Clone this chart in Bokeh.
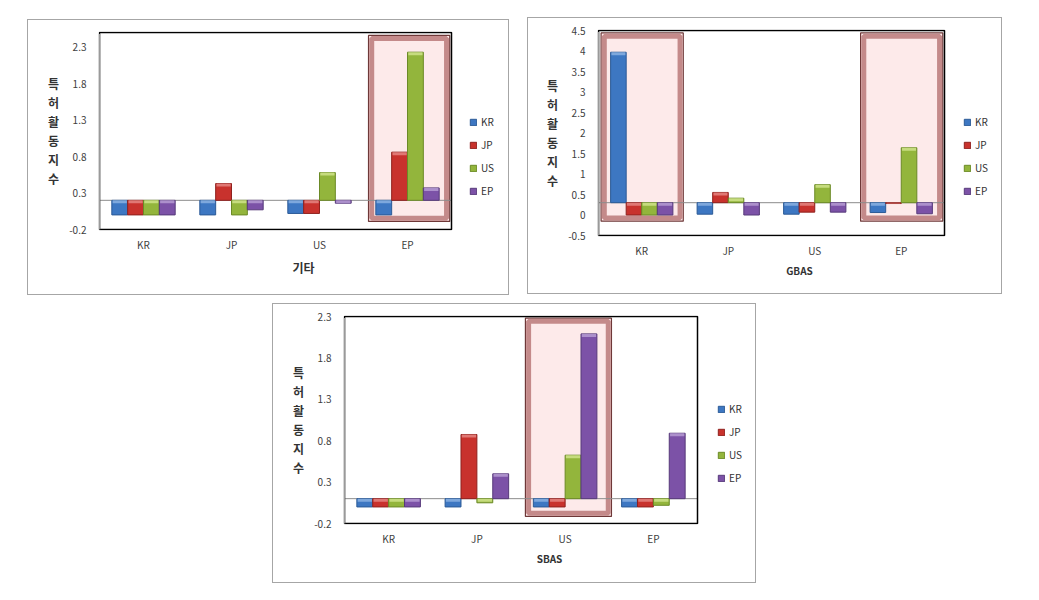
from bokeh.plotting import figure
from bokeh.models import (ColumnDataSource, FixedTicker, Legend, LegendItem, Spacer, Range1d)
from bokeh.layouts import row, column
from bokeh.embed import file_html
from bokeh.resources import INLINE

# ---------------- data ----------------
countries = ["KR", "JP", "US", "EP"]          # category groups (x axis)
series_names = ["KR", "JP", "US", "EP"]       # legend series

# panel 1 : 기타
etc_kr = [0.0, 0.0, 0.02, 0.0]
etc_jp = [0.0, 0.43, 0.02, 0.86]
etc_us = [0.0, 0.0, 0.58, 2.23]
etc_ep = [0.0, 0.07, 0.16, 0.37]
etc_base = 0.2
etc_ticks = [-0.2, 0.3, 0.8, 1.3, 1.8, 2.3]
etc_highlight = ["EP"]

# panel 2 : GBAS
gbas_kr = [3.97, 0.02, 0.02, 0.06]
gbas_jp = [0.0, 0.55, 0.07, 0.28]
gbas_us = [0.0, 0.41, 0.74, 1.64]
gbas_ep = [0.0, 0.0, 0.07, 0.03]
gbas_base = 0.3
gbas_ticks = [-0.5, 0, 0.5, 1, 1.5, 2, 2.5, 3, 3.5, 4, 4.5]
gbas_highlight = ["KR", "EP"]

# panel 3 : SBAS
sbas_kr = [0.0, 0.0, 0.0, 0.0]
sbas_jp = [0.0, 0.875, 0.0, 0.0]
sbas_us = [0.0, 0.05, 0.625, 0.02]
sbas_ep = [0.0, 0.40, 2.09, 0.89]
sbas_base = 0.1
sbas_ticks = [-0.2, 0.3, 0.8, 1.3, 1.8, 2.3]
sbas_highlight = ["US"]

y_label = "특\n허\n활\n동\n지\n수"

# ---------------- style ----------------
FONT = "Noto Sans CJK KR"
fills = ["#3d77c2", "#c8322d", "#93b53c", "#7c52a7"]
lines = ["#2b5a96", "#8f211e", "#6b8a26", "#573a7a"]
caps = ["#8fb4e3", "#e68a86", "#d3e68e", "#b9a0d6"]
offsets = [-0.27, -0.09, 0.09, 0.27]
BAR_W = 0.18
BORDER = {"background-color": "#a6a6a6"}


def fmt(t):
    s = "%.1f" % t
    if s.endswith(".0"):
        s = s[:-2]
    return s


def make_panel(xlabel, xlabel_size, vals, base, ticks, yr, highlight, box_lr, box_tb,
               w, h, mleft, mright, mtop, mbottom, leg_loc, xlab_standoff):
    """w, h, margins: outer panel (incl. 1px grey border) -> visible chart box."""
    n = len(countries)
    fig_w, fig_h = w - 2, h - 2
    vis_w = w - mleft - mright       # visible chart box width
    frame_h = h - mtop - mbottom
    ppx = vis_w / n                  # px per category
    ppy = frame_h / (yr[1] - yr[0])  # px per y unit
    dx = 1.0 / ppx
    dy = 1.0 / ppy
    x0 = -0.5
    x1 = x0 + (w - mleft - 1) / ppx
    p = figure(width=fig_w, height=fig_h,
               x_range=Range1d(x0 - dx, x1), y_range=Range1d(yr[0] - dy, yr[1] + dy),
               output_backend="svg", toolbar_location=None,
               min_border_left=mleft - 2, min_border_right=0,
               min_border_top=mtop - 2, min_border_bottom=mbottom - 2)
    xi = list(range(n))

    # highlight boxes
    hi_idx = [countries.index(c) for c in highlight]
    l_off, r_off = box_lr
    b_val, t_val = box_tb
    hsrc = ColumnDataSource(dict(left=[i - 0.5 + l_off for i in hi_idx],
                                 right=[i - 0.5 + r_off for i in hi_idx],
                                 bottom=[b_val] * len(hi_idx), top=[t_val] * len(hi_idx)))
    p.quad(left="left", right="right", bottom="bottom", top="top", source=hsrc,
           fill_color="#fdeaea", line_color="#6e3838", line_width=1.2)
    isrc = ColumnDataSource(dict(left=[i - 0.5 + l_off + 3.2 * dx for i in hi_idx],
                                 right=[i - 0.5 + r_off - 3.2 * dx for i in hi_idx],
                                 bottom=[b_val + 3.2 * dy] * len(hi_idx),
                                 top=[t_val - 3.2 * dy] * len(hi_idx)))
    p.quad(left="left", right="right", bottom="bottom", top="top", source=isrc,
           fill_color=None, line_color="#c48a8a", line_width=5)

    # baseline across the chart box
    p.segment(x0=[-0.5], x1=[n - 0.5], y0=[base], y1=[base], line_color="#8c8c8c", line_width=1)

    items = []
    for i, name in enumerate(series_names):
        v = vals[i]
        top = [max(a, base) for a in v]
        bot = [min(a, base) for a in v]
        cap_lo = [max(l, t - 3 * dy) for l, t in zip(bot, top)]
        src = ColumnDataSource(dict(x=[k + offsets[i] for k in xi], top=top, bottom=bot,
                                    cap_lo=cap_lo))
        r = p.vbar(x="x", width=BAR_W, top="top", bottom="bottom", source=src,
                   fill_color=fills[i], line_color=lines[i], line_width=1)
        p.vbar(x="x", width=BAR_W * 0.9, top="top", bottom="cap_lo", source=src,
               fill_color=caps[i], line_color=None, fill_alpha=0.8)
        items.append(LegendItem(label=name, renderers=[r]))

    # visible chart box (black, left edge grey)
    p.quad(left=[-0.5], right=[n - 0.5], bottom=[yr[0]], top=[yr[1]],
           fill_color=None, line_color="black", line_width=1.5)
    p.segment(x0=[-0.5], x1=[-0.5], y0=[yr[0]], y1=[yr[1] - 1.5 * dy],
              line_color="#9a9a9a", line_width=1.5)

    leg = Legend(items=items, location=(vis_w + leg_loc[0] + 1, leg_loc[1]),
                 orientation="vertical",
                 glyph_width=8, glyph_height=8, label_standoff=4,
                 label_height=13, spacing=8, padding=0, margin=0,
                 border_line_color=None, background_fill_alpha=0,
                 label_text_font_size="10px", label_text_font=FONT,
                 label_text_color="#333333")
    p.add_layout(leg)

    p.xgrid.grid_line_color = None
    p.ygrid.grid_line_color = None
    p.outline_line_color = None
    p.background_fill_color = "white"
    p.border_fill_color = "white"

    p.yaxis.ticker = FixedTicker(ticks=ticks)
    p.yaxis.major_label_overrides = {t: fmt(t) for t in ticks}
    p.yaxis.axis_label = y_label
    p.yaxis.axis_label_orientation = "horizontal"
    p.yaxis.axis_label_text_font = FONT
    p.yaxis.axis_label_text_font_size = "12px"
    p.yaxis.axis_label_text_font_style = "bold"
    p.yaxis.axis_label_text_color = "#333333"
    p.yaxis.axis_label_text_line_height = 1.12
    p.yaxis.axis_label_standoff = 7
    p.yaxis.major_label_standoff = 12

    p.xaxis.ticker = FixedTicker(ticks=xi)
    p.xaxis.major_label_overrides = {k: c for k, c in zip(xi, countries)}
    p.xaxis.axis_label = xlabel
    p.xaxis.axis_label_text_font = FONT
    p.xaxis.axis_label_text_font_size = xlabel_size
    p.xaxis.axis_label_text_font_style = "bold"
    p.xaxis.axis_label_text_color = "#333333"
    p.xaxis.axis_label_standoff = xlab_standoff
    p.xaxis.major_label_standoff = 6

    for ax in (p.xaxis[0], p.yaxis[0]):
        ax.axis_line_color = None
        ax.major_tick_line_color = None
        ax.minor_tick_line_color = None
        ax.major_tick_in = 0
        ax.major_tick_out = 0
        ax.minor_tick_in = 0
        ax.minor_tick_out = 0
        ax.major_label_text_font = FONT
        ax.major_label_text_font_size = "10px"
        ax.major_label_text_color = "#404040"

    # grey outer panel border made of thin spacers
    return column(Spacer(width=w, height=1, styles=BORDER),
                  row(Spacer(width=1, height=fig_h, styles=BORDER), p,
                      Spacer(width=1, height=fig_h, styles=BORDER)),
                  Spacer(width=w, height=1, styles=BORDER))


p1 = make_panel("기타", "12px", [etc_kr, etc_jp, etc_us, etc_ep], etc_base, etc_ticks,
                (-0.2, 2.5), etc_highlight, (0.057, 0.98), (-0.09, 2.46),
                482, 276, 72, 58, 13, 66, (18, 32), 4)
p2 = make_panel("GBAS", "10px", [gbas_kr, gbas_jp, gbas_us, gbas_ep], gbas_base, gbas_ticks,
                (-0.5, 4.5), gbas_highlight, (0.03, 0.98), (-0.15, 4.44),
                475, 277, 71, 58, 13, 59, (19, 38), 2)
p3 = make_panel("SBAS", "10px", [sbas_kr, sbas_jp, sbas_us, sbas_ep], sbas_base, sbas_ticks,
                (-0.2, 2.3), sbas_highlight, (0.05, 1.025), (-0.115, 2.28),
                484, 280, 72, 59, 13, 60, (20, 39), 2)

top_row = row(Spacer(width=27, height=295),
              column(Spacer(width=482, height=19), p1),
              Spacer(width=18, height=295),
              column(Spacer(width=475, height=17), p2))
bottom_row = row(Spacer(width=272, height=288),
                 column(Spacer(width=484, height=8), p3))
layout = column(top_row, bottom_row)

open("out.html", "w").write(file_html(layout, INLINE))
